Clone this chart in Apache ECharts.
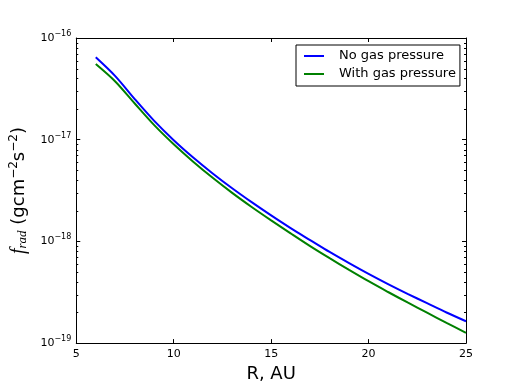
<!DOCTYPE html>
<html>
<head>
<meta charset="utf-8">
<script src="https://cdn.jsdelivr.net/npm/echarts@6/dist/echarts.min.js"></script>
<style>
  html, body { margin: 0; padding: 0; background: #fff; }
  #main { width: 518px; height: 388px; }
</style>
</head>
<body>
<div id="main"></div>
<script>
// R in AU
const rVals = [6, 7, 8, 9, 10, 11, 12, 13, 14, 15, 16, 17, 18, 19, 20, 21, 22, 23, 24, 25]
// f_rad
const noGas = [6.46e-17, 4.22e-17, 2.51e-17, 1.53e-17, 9.89e-18, 6.68e-18, 4.66e-18, 3.33e-18, 2.43e-18, 1.80e-18,
  1.35e-18, 1.03e-18, 7.87e-19, 6.11e-19, 4.79e-19, 3.80e-19, 3.05e-19, 2.47e-19, 2.00e-19, 1.64e-19]
const withGas = [5.55e-17, 3.74e-17, 2.27e-17, 1.39e-17, 9.02e-18, 6.08e-18, 4.22e-18, 3.00e-18, 2.18e-18, 1.61e-18,
  1.20e-18, 8.99e-19, 6.84e-19, 5.25e-19, 4.06e-19, 3.18e-19, 2.51e-19, 1.99e-19, 1.58e-19, 1.26e-19]
const seriesNames = ['No gas pressure', 'With gas pressure']
const xTicks = [5, 10, 15, 20, 25]

const font = 'DejaVu Sans'
const chart = echarts.init(document.getElementById('main'))

const xBase = {
  type: 'value', min: xTicks[0], max: xTicks[xTicks.length - 1], interval: 5,
  axisLine: { lineStyle: { color: '#000', width: 1 } },
  axisTick: { inside: true, length: 4, lineStyle: { color: '#000' } },
  splitLine: { show: false }
}
const yBase = {
  type: 'log', logBase: 10, min: 1e-19, max: 1e-16,
  axisLine: { show: true, lineStyle: { color: '#000', width: 1 } },
  axisTick: { inside: true, length: 4, lineStyle: { color: '#000' } },
  splitLine: { show: false }
}

const option = {
  animation: false,
  textStyle: { fontFamily: font },
  grid: { left: 65, right: 52, top: 38, bottom: 39 },
  legend: {
    orient: 'vertical', left: 296, top: 45,
    data: seriesNames,
    borderColor: '#000', borderWidth: 1, borderRadius: 0,
    padding: [4, 4, 5, 7],
    itemWidth: 20, itemHeight: 14, itemGap: 4,
    itemStyle: { opacity: 0, borderWidth: 0 },
    lineStyle: { width: 2 },
    textStyle: { fontFamily: font, fontSize: 13, color: '#000', lineHeight: 14, padding: [0, 0, 0, 10] }
  },
  xAxis: [
    Object.assign({}, xBase, {
      position: 'bottom',
      name: 'R, AU', nameLocation: 'middle', nameGap: 17,
      nameTextStyle: { fontFamily: font, fontSize: 18, color: '#000' },
      axisLabel: { color: '#000', fontSize: 11, margin: 6 }
    }),
    Object.assign({}, xBase, { position: 'top', axisLabel: { show: false } })
  ],
  yAxis: [
    Object.assign({}, yBase, {
      position: 'left',
      name: '{i|f}{sub|rad}{n| (gcm}{sup|−2}{n|s}{sup|−2}{n|)}',
      nameLocation: 'middle', nameGap: 37,
      nameTextStyle: {
        rich: {
          i: { fontFamily: 'Liberation Serif', fontStyle: 'italic', fontSize: 20, color: '#000' },
          sub: { fontFamily: 'Liberation Serif', fontStyle: 'italic', fontSize: 13, color: '#000', padding: [8, 0, 0, 0] },
          n: { fontFamily: font, fontSize: 18, color: '#000' },
          sup: { fontFamily: font, fontSize: 12, color: '#000', padding: [0, 0, 10, 0] }
        }
      },
      axisLabel: {
        margin: 5,
        formatter: v => '{b|10}{e|' + String(Math.round(Math.log10(v))).replace('-', '−') + '}',
        rich: {
          b: { fontFamily: font, fontSize: 11, color: '#000' },
          e: { fontFamily: font, fontSize: 8, color: '#000', padding: [0, 0, 8, 0] }
        }
      }
    }),
    Object.assign({}, yBase, { position: 'right', axisLabel: { show: false } })
  ],
  series: [
    {
      name: seriesNames[0], type: 'line', symbol: 'none', smooth: 0.3,
      lineStyle: { color: '#0000ff', width: 2 }, itemStyle: { color: '#0000ff' },
      data: rVals.map((r, i) => [r, noGas[i]])
    },
    {
      name: seriesNames[1], type: 'line', symbol: 'none', smooth: 0.3,
      lineStyle: { color: '#008000', width: 2 }, itemStyle: { color: '#008000' },
      data: rVals.map((r, i) => [r, withGas[i]])
    }
  ]
}
chart.setOption(option)

// log minor ticks (2..9 of each decade), placed through the axis scale
const xl = chart.convertToPixel({ xAxisIndex: 0 }, xTicks[0])
const xr = chart.convertToPixel({ xAxisIndex: 0 }, xTicks[xTicks.length - 1])
const minor = []
for (let k = -19; k < -16; k++) {
  for (let m = 2; m < 10; m++) {
    const y = Math.round(chart.convertToPixel({ yAxisIndex: 0 }, m * Math.pow(10, k))) + 0.5
    minor.push({ type: 'line', shape: { x1: xl, y1: y, x2: xl + 2, y2: y }, style: { stroke: '#000', lineWidth: 1 } })
    minor.push({ type: 'line', shape: { x1: xr - 2, y1: y, x2: xr, y2: y }, style: { stroke: '#000', lineWidth: 1 } })
  }
}
chart.setOption({ graphic: minor })
</script>
</body>
</html>
